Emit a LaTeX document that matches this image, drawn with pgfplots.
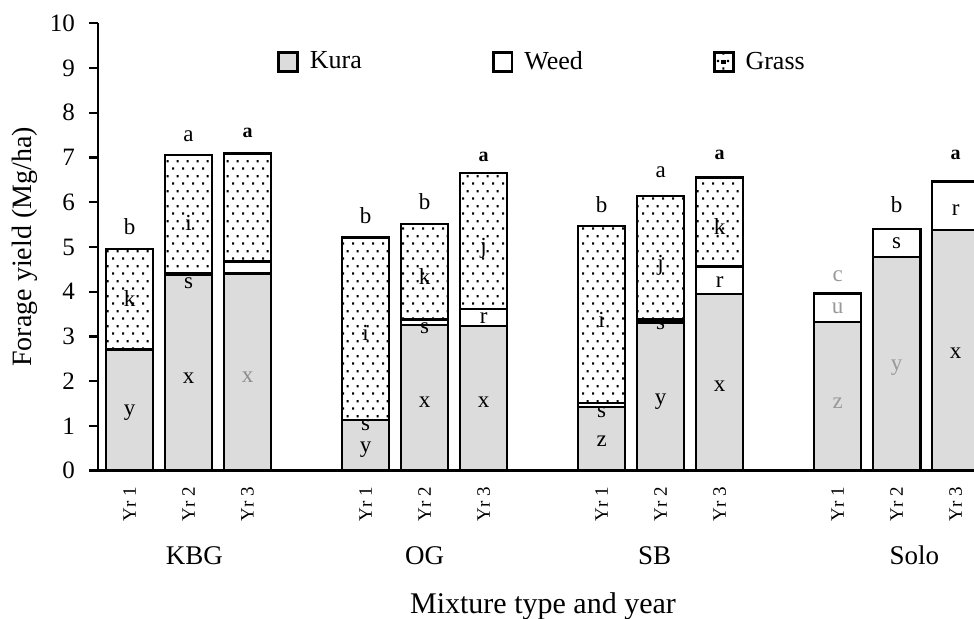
\documentclass[border=0pt]{standalone}
\usepackage{fontspec}
\setmainfont{Liberation Serif}
\usepackage{pgfplots}
\usepackage{pgfplotstable}
\pgfplotsset{compat=1.18}
\usetikzlibrary{patterns,calc}

% sparse staggered dots for the grass part
\pgfdeclarepatternformonly{grassdots}{\pgfqpoint{0pt}{0pt}}{\pgfqpoint{5pt}{7.4pt}}{\pgfqpoint{5pt}{7.4pt}}{%
  \pgfpathrectangle{\pgfqpoint{1.2pt}{1.2pt}}{\pgfqpoint{1.1pt}{1.1pt}}%
  \pgfpathrectangle{\pgfqpoint{3.7pt}{4.9pt}}{\pgfqpoint{1.1pt}{1.1pt}}%
  \pgfusepath{fill}}

\definecolor{kuragray}{RGB}{220,220,220}

\pgfplotstableread{
pos kura weed grass
0  2.71 0.00 2.24
1  4.37 0.04 2.65
2  4.41 0.27 2.41
4  1.13 0.00 4.08
5  3.26 0.12 2.13
6  3.24 0.37 3.04
8  1.43 0.08 3.96
9  3.31 0.07 2.76
10 3.95 0.61 1.99
12 3.32 0.64 0.00
13 4.78 0.62 0.00
14 5.38 1.08 0.00
}\yielddata

\begin{document}
\begin{tikzpicture}
\begin{axis}[
  name=ax,
  scale only axis,
  width=438pt, height=223.7pt,
  ybar stacked,
  bar width=0.8,
  xmin=-0.534, xmax=14.31,
  ymin=0, ymax=10,
  clip=false,
  axis x line*=bottom,
  axis y line*=left,
  axis line style={-, line width=1.4pt},
  ytick={0,1,...,10},
  tick align=outside,
  major tick length=4.5pt,
  ytick style={line width=1.2pt, black},
  xtick={0,1,2,4,5,6,8,9,10,12,13,14},
  xticklabels={Yr 1,Yr 2,Yr 3,Yr 1,Yr 2,Yr 3,Yr 1,Yr 2,Yr 3,Yr 1,Yr 2,Yr 3},
  xtick style={draw=none},
  /pgf/number format/assume math mode=true,
  yticklabel style={font=\fontsize{12.5}{14}\selectfont, xshift=-3.5pt},
  xticklabel style={font=\fontsize{9.5}{11}\selectfont, rotate=90, anchor=east},
  ylabel={Forage yield (Mg/ha)},
  ylabel style={at={(axis description cs:-0.0833,0.5)}, anchor=center, rotate=0,
    font=\fontsize{14}{16}\selectfont},
  xlabel={Mixture type and year},
  xlabel style={at={(axis description cs:0.508,0)}, anchor=center, yshift=-68pt,
    font=\fontsize{15}{17}\selectfont},
  legend style={draw=none, fill=none, legend columns=3,
    at={(0.508,0.9135)}, anchor=center,
    font=\fontsize{13}{15}\selectfont,
    /tikz/every even column/.append style={column sep=63pt}},
]
\addplot[draw=black, line width=1.2pt, fill=kuragray,
  legend image code/.code={\draw[line width=1.4pt, fill=kuragray] (0pt,-4.7pt) rectangle (9.4pt,4.7pt);
    \path (13pt,0pt);}]
  table[x=pos, y=kura] {\yielddata};
\addlegendentry{Kura}
\addplot[draw=black, line width=1.2pt, fill=white,
  legend image code/.code={\draw[line width=1.4pt, fill=white] (0pt,-4.7pt) rectangle (9.4pt,4.7pt);
    \path (13pt,0pt);}]
  table[x=pos, y=weed] {\yielddata};
\addlegendentry{Weed}
\addplot[draw=black, line width=1.2pt, pattern=grassdots,
  legend image code/.code={\draw[line width=1.4pt] (0pt,-4.7pt) rectangle (9.4pt,4.7pt);
    \fill (4.1pt,-0.6pt) rectangle (5.3pt,0.6pt);
    \path (13pt,0pt);}]
  table[x=pos, y=grass] {\yielddata};
\addlegendentry{Grass}

\coordinate (O) at (axis cs:0,0);
\coordinate (X1) at (axis cs:1,0);
\coordinate (Y1) at (axis cs:0,1);
\end{axis}

% letters drawn in the axis units, in front of the bars
\begin{scope}[shift={(O)}, x={($(X1)-(O)$)}, y={($(Y1)-(O)$)}]
% group names
\begin{scope}[font=\fontsize{13.5}{15}\selectfont]
\node at (1.1,-1.9) {KBG};
\node at (5.0,-1.9) {OG};
\node at (8.9,-1.9) {SB};
\node at (13.3,-1.9) {Solo};
\end{scope}
% mean-separation letters
\begin{scope}[font=\fontsize{11.5}{13}\selectfont]
\node at (0,5.45) {b};
\node at (0,3.85) {k};
\node at (0,1.3) {y};
\node at (1,7.47) {a};
\node at (1,5.53) {i};
\node at (1,4.2) {s};
\node at (1,2.07) {x};
\node[font=\bfseries] at (2,7.55) {a};
\node[text=black!45] at (2,2.1) {x};
\node at (4,5.71) {b};
\node at (4,3.07) {i};
\node at (4,1.02) {s};
\node at (4,0.46) {y};
\node at (5,6.01) {b};
\node at (5,4.34) {k};
\node at (5,3.18) {s};
\node at (5,1.54) {x};
\node[font=\bfseries] at (6,7.02) {a};
\node at (6,4.97) {j};
\node at (6,3.4) {r};
\node at (6,1.54) {x};
\node at (8,5.94) {b};
\node at (8,3.37) {i};
\node at (8,1.3) {s};
\node at (8,0.65) {z};
\node at (9,6.68) {a};
\node at (9,4.6) {j};
\node at (9,3.28) {s};
\node at (9,1.54) {y};
\node[font=\bfseries] at (10,7.06) {a};
\node at (10,5.45) {k};
\node at (10,4.22) {r};
\node at (10,1.88) {x};
\node[text=black!40] at (12,4.34) {c};
\node[text=black!40] at (12,3.64) {u};
\node[text=black!40] at (12,1.51) {z};
\node at (13,5.94) {b};
\node at (13,5.08) {s};
\node[text=black!40] at (13,2.3) {y};
\node[font=\bfseries] at (14,7.06) {a};
\node at (14,5.83) {r};
\node at (14,2.62) {x};
\end{scope}
\end{scope}

\pgfresetboundingbox
\path[use as bounding box] ([xshift=-49pt,yshift=-74.15pt]ax.south west)
  rectangle ([yshift=11.65pt]ax.north east);
\end{tikzpicture}
\end{document}
